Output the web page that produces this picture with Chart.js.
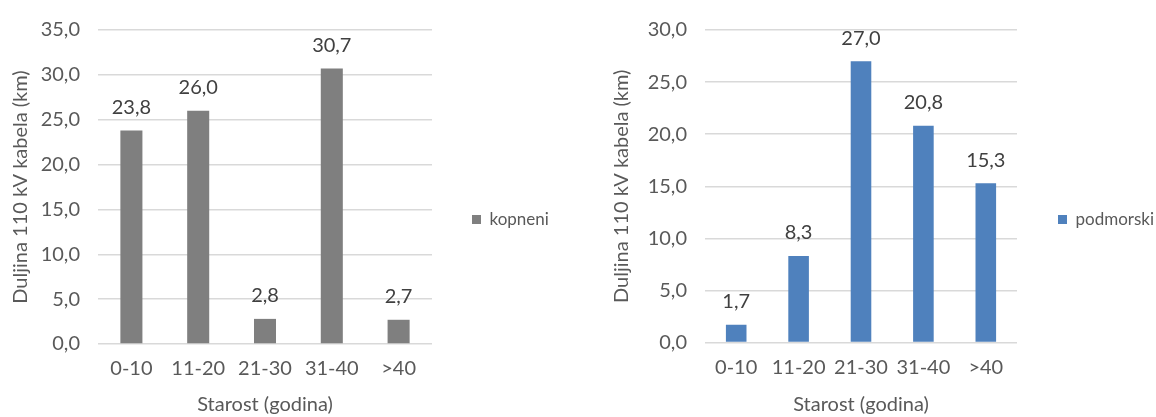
<!DOCTYPE html>
<html>
<head>
<meta charset="utf-8">
<script src="https://cdn.jsdelivr.net/npm/chart.js@4"></script>
<style>
  html, body { margin: 0; padding: 0; background: #fff; overflow: hidden; width: 1156px; height: 417px; }
  .box { position: absolute; top: 0; height: 417px; }
</style>
</head>
<body>
<div class="box" id="b1" style="left:0px;width:578px;"><canvas id="c1"></canvas></div>
<div class="box" id="b2" style="left:607px;width:549px;"><canvas id="c2"></canvas></div>
<script>
const categories = ['0-10', '11-20', '21-30', '31-40', '>40'];
const kopneniValues = [23.8, 26.0, 2.8, 30.7, 2.7];
const podmorskiValues = [1.7, 8.3, 27.0, 20.8, 15.3];
const seriesNames = ['kopneni', 'podmorski'];
const yTitle = 'Duljina 110 kV kabela (km)';
const xTitle = 'Starost (godina)';

const FONT = 'Lato';
const AXIS_SIZE = 20;
const fmt = v => Number(v).toFixed(1).replace('.', ',');

const valueLabels = {
  id: 'valueLabels',
  afterDatasetsDraw(chart) {
    const ctx = chart.ctx;
    chart.data.datasets.forEach((ds, i) => {
      const meta = chart.getDatasetMeta(i);
      meta.data.forEach((bar, j) => {
        ctx.save();
        ctx.fillStyle = '#404040';
        ctx.font = AXIS_SIZE + 'px ' + FONT;
        ctx.textAlign = 'center';
        ctx.textBaseline = 'middle';
        ctx.fillText(fmt(ds.data[j]), bar.x, bar.y - 23);
        ctx.restore();
      });
    });
  }
};

const fixLegendWidth = {
  id: 'fixLegendWidth',
  beforeLayout(chart, args, opts) {
    const lg = chart.legend;
    if (lg && !lg._fixedW) {
      const orig = lg.fit.bind(lg);
      lg.fit = function () { orig(); this.width = opts.width; };
      lg._fixedW = true;
    }
  }
};

function makeChart(id, values, name, color, yMax, opts) {
  return new Chart(document.getElementById(id), {
    type: 'bar',
    data: {
      labels: categories,
      datasets: [{
        label: name,
        data: values,
        backgroundColor: color,
        borderWidth: 0,
        categoryPercentage: 1,
        barPercentage: 0.33
      }]
    },
    options: {
      responsive: true,
      maintainAspectRatio: false,
      animation: false,
      devicePixelRatio: 1,
      layout: { padding: { top: 22, bottom: 0, left: 0, right: 0 } },
      plugins: {
        fixLegendWidth: { width: opts.legendWidth },
        legend: {
          display: true,
          position: 'right',
          labels: {
            boxWidth: 9,
            boxHeight: 9,
            padding: opts.legendPad,
            color: '#595959',
            font: { family: FONT, size: 17 }
          }
        },
        tooltip: { enabled: false }
      },
      scales: {
        x: {
          grid: { display: false, drawTicks: false },
          border: { display: false },
          ticks: { color: '#595959', font: { family: FONT, size: AXIS_SIZE }, padding: 13, maxRotation: 0 },
          title: { display: true, text: xTitle, color: '#595959', font: { family: FONT, size: AXIS_SIZE }, padding: { top: 0, bottom: 0 } },
          afterFit: s => { s.height = opts.xHeight; }
        },
        y: {
          min: 0,
          max: yMax,
          grid: { color: '#d9d9d9', lineWidth: 1.5, drawTicks: false },
          border: { display: false },
          ticks: { stepSize: 5, color: '#595959', font: { family: FONT, size: AXIS_SIZE }, padding: 18, callback: v => fmt(v) },
          title: { display: true, text: yTitle, color: '#595959', font: { family: FONT, size: AXIS_SIZE }, padding: { top: opts.yTitlePad, bottom: 0 } },
          afterFit: s => { s.width = 98; }
        }
      }
    },
    plugins: [fixLegendWidth, valueLabels]
  });
}

makeChart('c1', kopneniValues, seriesNames[0], '#7f7f7f', 35, { legendWidth: 146, legendPad: 40, xHeight: 73, yTitlePad: 9 });
makeChart('c2', podmorskiValues, seriesNames[1], '#4f81bd', 30, { legendWidth: 139, legendPad: 41, xHeight: 74.5, yTitlePad: 3 });
</script>
</body>
</html>
